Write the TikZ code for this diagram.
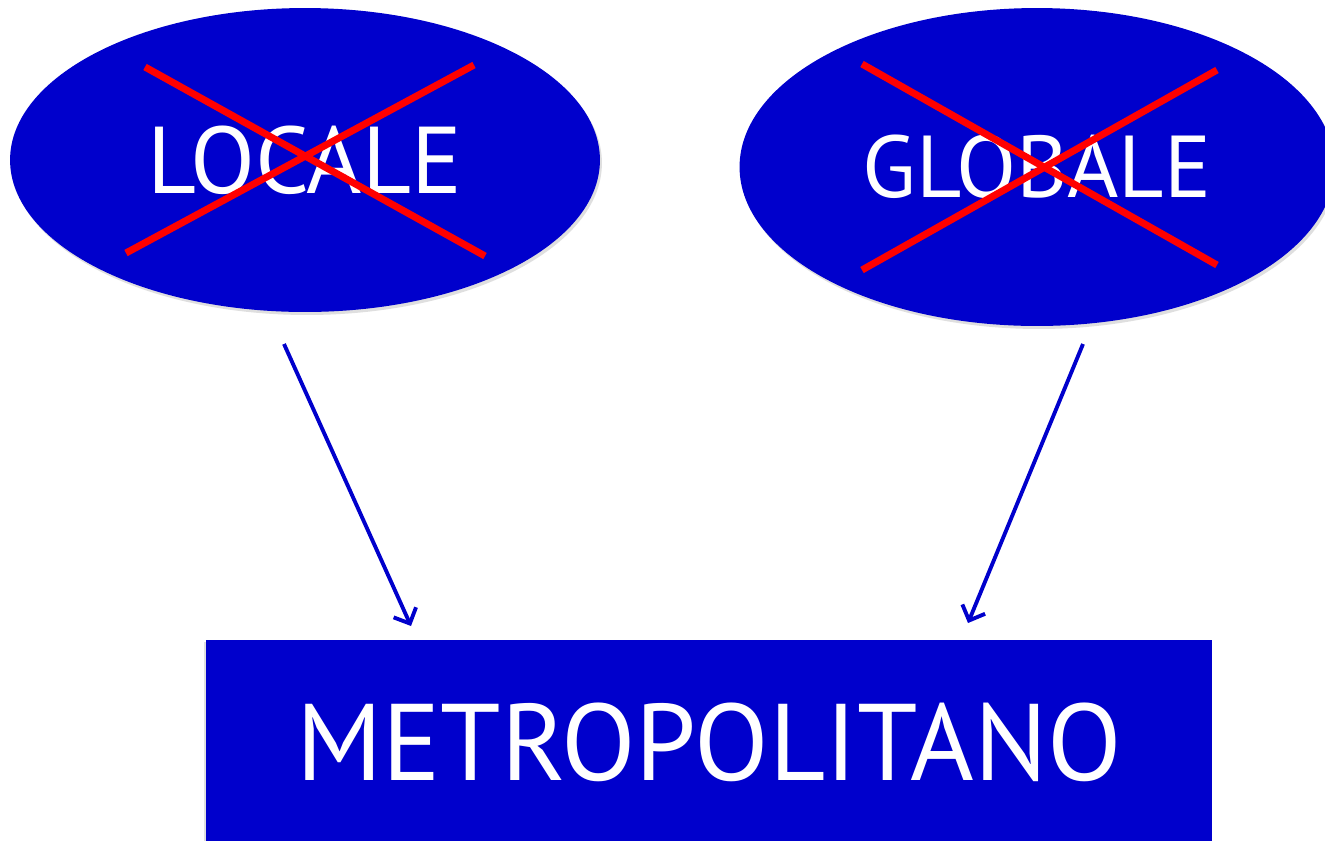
\documentclass[tikz,border=0pt]{standalone}
\usepackage{fontspec}
\setmainfont{PT Sans}
\definecolor{metroblue}{RGB}{0, 0, 204}
\definecolor{crossred}{RGB}{255, 0, 0}
\usetikzlibrary{shapes.geometric, arrows.meta, shadows}
\tikzstyle{area} = [draw=none, fill=metroblue, ellipse, text=white,
                    drop shadow={shadow xshift=0.04cm, shadow yshift=-0.06cm, opacity=0.25}]
\tikzstyle{levelbox} = [draw=none, fill=metroblue, rectangle, text=white, inner sep=0pt,
                        drop shadow={shadow xshift=-0.04cm, shadow yshift=-0.04cm, opacity=0.25}]
\tikzstyle{cross} = [draw=crossred, line width=4pt]
\tikzstyle{link} = [draw=metroblue, line width=2.2pt, -{Straight Barb[length=7pt, width=14pt]}]

\begin{document}
\begin{tikzpicture}[x=0.02cm, y=-0.02cm]
                    \useasboundingbox[fill=white] (0, 0) rectangle (1325, 840);
                    \node[area, minimum width=11.8cm, minimum height=6.08cm,
                          font=\fontsize{54}{60}\selectfont] (locale) at (305, 160) {LOCALE};
                    \node[area, minimum width=11.9cm, minimum height=6.36cm,
                          font=\fontsize{50}{60}\selectfont] (globale) at (1037, 167) {GLOBALE};
                    \node[levelbox, minimum width=20.12cm, minimum height=4.08cm,
                          font=\fontsize{62}{72}\selectfont] (metro) at (709, 742) {METROPOLITANO};
                    \draw[cross] (145, 67) -- (485, 256);
                    \draw[cross] (126, 253) -- (474, 65);
                    \draw[cross] (862, 64) -- (1217, 265);
                    \draw[cross] (862, 270) -- (1217, 70);
                    \coordinate (from locale) at (284, 344);
                    \coordinate (to locale) at (411, 626);
                    \coordinate (from globale) at (1083, 344);
                    \coordinate (to globale) at (968, 623);
                    \draw[link] (from locale) -- (to locale);
                    \draw[link] (from globale) -- (to globale);
                \end{tikzpicture}
\end{document}
